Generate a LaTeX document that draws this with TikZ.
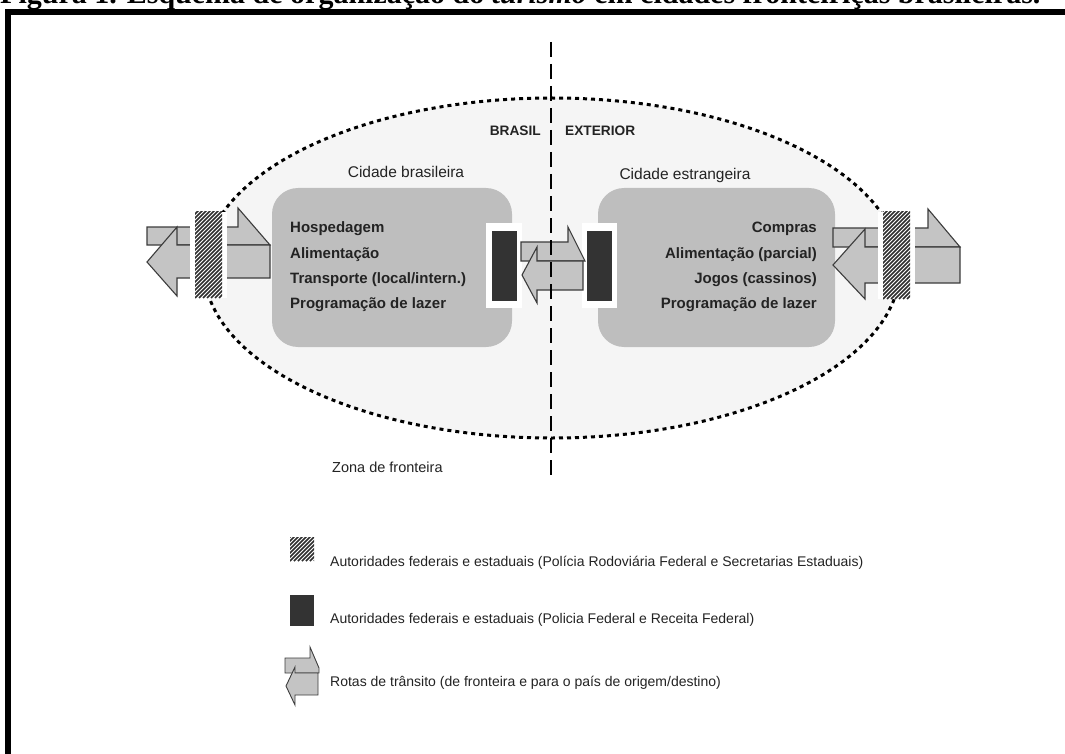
\documentclass[tikz,border=0pt]{standalone}
\usepackage{fontspec}
\setmainfont{Liberation Sans}
\newfontfamily\titlefont{Liberation Serif}
\definecolor{zonefill}{RGB}{245,245,245}
\definecolor{boxgray}{RGB}{190,190,190}
\definecolor{arrowgray}{RGB}{196,196,196}
\definecolor{arrowline}{RGB}{60,60,60}
\definecolor{blockdark}{RGB}{51,51,51}
\definecolor{hatchcol}{RGB}{45,45,45}
\definecolor{txtcol}{RGB}{35,35,35}
\tikzset{
  zone/.style={fill=zonefill, draw=black, line width=3, dash pattern=on 4 off 4},
  citybox/.style={fill=boxgray, rounded corners=26},
  routearrow/.style={fill=arrowgray, draw=arrowline, line width=1.1, line join=miter},
  darkblock/.style={fill=blockdark},
  whitepad/.style={fill=white},
  borderline/.style={draw=black, line width=2, dash pattern=on 15 off 7},
  lbl/.style={font=\fontsize{15.5}{18}\selectfont, text=txtcol, inner sep=0},
  side/.style={font=\bfseries\fontsize{13.7}{16}\selectfont, text=txtcol, inner sep=0},
  item/.style={font=\bfseries\fontsize{15}{18}\selectfont, text=txtcol, inner sep=0},
  legend/.style={font=\fontsize{14}{17}\selectfont, text=txtcol, inner sep=0, anchor=west},
  frameline/.style={draw=black, line width=6, line join=miter},
}
\newcommand{\hatchrect}[4]{%
  \begin{scope}
    \clip (#1,#2) rectangle (#3,#4);
    \foreach \k in {-120,-116,...,60}
      \draw[hatchcol, line width=1.5] (#1+\k,#4) -- ++(100,-100);
  \end{scope}}
\begin{document}
\begin{tikzpicture}[x=1pt,y=-1pt]
\useasboundingbox (0,0) rectangle (1065,754);
\clip (0,0) rectangle (1065,754);
\fill[white] (0,0) rectangle (1065,754);

% title (cut by the top edge)
\node[anchor=base west, inner sep=0, font=\titlefont\bfseries\fontsize{30}{34}\selectfont] (title) at (0,3.5)
  {Figura 1. Esquema de organização do \textit{turismo} em cidades fronteiriças brasileiras.};

% frame
\draw[frameline] (8,770) -- (8,12) -- (1080,12);

% border zone
\draw[zone] (552,268) ellipse [x radius=348, y radius=170];

% city boxes
\fill[citybox] (272,188) rectangle (512,347);
\fill[citybox] (598,188) rectangle (835,347);

% customs blocks
\fill[whitepad] (486,223) rectangle (522,308);
\fill[whitepad] (582,223) rectangle (617,308);
\fill[darkblock] (492,231) rectangle (517,301);
\fill[darkblock] (587,231) rectangle (612,301);

% center arrows
\draw[routearrow] (521,242) -- (568,242) -- (568,227) -- (585,261) -- (521,261) -- cycle;
\draw[routearrow] (522,275) -- (537,247) -- (537,261) -- (583,261) -- (583,290) -- (537,290) -- (537,303) -- cycle;

% left arrows
\draw[routearrow] (147,227) -- (238,227) -- (238,208) -- (270,245) -- (147,245) -- cycle;
\draw[routearrow] (147,262) -- (177,227) -- (177,245) -- (270,245) -- (270,278) -- (177,278) -- (177,296) -- cycle;

% right arrows
\draw[routearrow] (833,228) -- (928,228) -- (928,209) -- (960,247) -- (833,247) -- cycle;
\draw[routearrow] (833,265) -- (865,229) -- (865,247) -- (960,247) -- (960,283) -- (865,283) -- (865,299) -- cycle;

% road police blocks
\fill[whitepad] (190,212) rectangle (227,298);
\hatchrect{195}{212}{222}{298}
\fill[whitepad] (878,212) rectangle (915,299);
\hatchrect{883}{212}{910}{299}

% border line
\coordinate (bTop) at (551,42);
\coordinate (bBot) at (551,480);
\draw[borderline] (bTop) -- (bBot);

% labels
\node[side, anchor=east] (brasil) at (541,131) {BRASIL};
\node[side, anchor=west] (exterior) at (565,131) {EXTERIOR};
\node[lbl] (cbr) at (406,172) {Cidade brasileira};
\node[lbl] (cex) at (685,175) {Cidade estrangeira};

\node[item, anchor=base west] (l1) at (290,233) {Hospedagem};
\node[item, anchor=base west] (l2) at (290,258) {Alimentação};
\node[item, anchor=base west] (l3) at (290,283) {Transporte (local/intern.)};
\node[item, anchor=base west] (l4) at (290,308) {Programação de lazer};

\node[item, anchor=base east] (r1) at (817,233) {Compras};
\node[item, anchor=base east] (r2) at (817,258) {Alimentação (parcial)};
\node[item, anchor=base east] (r3) at (817,283) {Jogos (cassinos)};
\node[item, anchor=base east] (r4) at (817,308) {Programação de lazer};

\node[legend, font=\fontsize{14.5}{17}\selectfont] (zona) at (332,467) {Zona de fronteira};

% legend
\hatchrect{290}{537}{314}{561}
\node[legend] (leg1) at (330,563) {Autoridades federais e estaduais (Polícia Rodoviária Federal e Secretarias Estaduais)};
\fill[darkblock] (290,595) rectangle (314,626);
\node[legend] (leg2) at (330,620) {Autoridades federais e estaduais (Policia Federal e Receita Federal)};
\draw[routearrow, line width=0.9] (285,658) -- (310,658) -- (310,647) -- (319,668) -- (319,673) -- (285,673) -- cycle;
\draw[routearrow, line width=0.9] (286,686) -- (295,667) -- (295,673) -- (318,673) -- (318,695) -- (295,695) -- (295,705) -- cycle;
\node[legend] (leg3) at (330,683) {Rotas de trânsito (de fronteira e para o país de origem/destino)};
\end{tikzpicture}
\end{document}
